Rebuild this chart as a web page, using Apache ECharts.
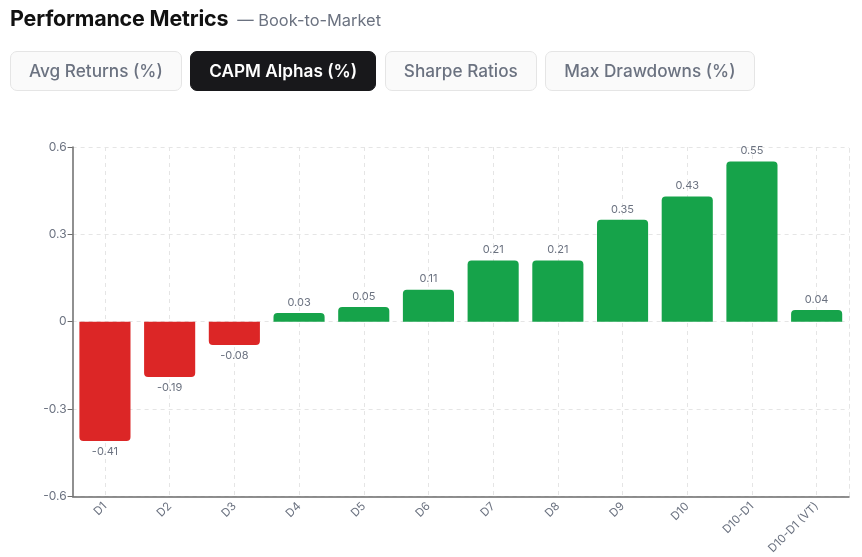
<!DOCTYPE html>
<html>
<head>
<meta charset="utf-8">
<script src="https://cdn.jsdelivr.net/npm/echarts@6/dist/echarts.min.js"></script>
<style>
  html, body { margin: 0; padding: 0; background: #fff; font-family: Inter, "Noto Sans", sans-serif; }
  #wrap { position: relative; width: 862px; height: 557px; overflow: hidden; }
  #head { position: absolute; left: 10px; top: 5px; white-space: nowrap; }
  #head .t { font-size: 21.5px; font-weight: 700; color: #111; letter-spacing: -0.2px; }
  #head .s { font-size: 16.4px; color: #6b7280; margin-left: 9px; }
  #tabs { position: absolute; left: 10px; top: 51px; display: flex; gap: 8.5px; }
  .tab { box-sizing: border-box; height: 40px; line-height: 38px; padding: 0 18px; border: 1px solid #e5e5e5;
         border-radius: 7px; background: #fafafa; color: #6b7280; font-size: 17.2px; font-weight: 500; white-space: nowrap; }
  .tab.on { background: #18181b; border-color: #18181b; color: #fff; font-weight: 600; }
  #chart { position: absolute; left: 0; top: 0; width: 862px; height: 557px; }
</style>
</head>
<body>
<div id="wrap">
  <div id="chart"></div>
  <div id="head"><span class="t">Performance Metrics</span><span class="s">— Book-to-Market</span></div>
  <div id="tabs">
    <div class="tab">Avg Returns (%)</div>
    <div class="tab on">CAPM Alphas (%)</div>
    <div class="tab">Sharpe Ratios</div>
    <div class="tab">Max Drawdowns (%)</div>
  </div>
</div>
<script>
var categories = ['D1', 'D2', 'D3', 'D4', 'D5', 'D6', 'D7', 'D8', 'D9', 'D10', 'D10-D1', 'D10-D1 (VT)'];
var alphas = [-0.41, -0.19, -0.08, 0.03, 0.05, 0.11, 0.21, 0.21, 0.35, 0.43, 0.55, 0.04];
var yTicks = [-0.6, -0.3, 0, 0.3, 0.6];

var posColor = '#16a34a';
var negColor = '#dc2626';
var textColor = '#6b7280';
var gridColor = '#e5e5e5';

var points = [];
for (var i = 0; i < alphas.length; i++) {
  var v = alphas[i];
  points.push({
    value: v,
    itemStyle: {
      color: v >= 0 ? posColor : negColor,
      borderRadius: v >= 0 ? [4, 4, 0, 0] : [0, 0, 4, 4]
    },
    label: { position: v >= 0 ? 'top' : 'bottom' }
  });
}

var chart = echarts.init(document.getElementById('chart'));
chart.setOption({
  animation: false,
  textStyle: { fontFamily: 'Inter, "Noto Sans", sans-serif' },
  grid: { left: 72.6, right: 13, top: 147, bottom: 60, containLabel: false },
  xAxis: {
    type: 'category',
    data: categories,
    axisLine: { onZero: false, lineStyle: { color: '#6b6b6b', width: 1.5 } },
    axisTick: { alignWithLabel: true, length: 5, lineStyle: { color: '#6b6b6b' } },
    axisLabel: { rotate: 45, color: textColor, fontSize: 11.5, margin: 8, interval: 0 },
    splitLine: { show: true, alignWithLabel: true, lineStyle: { color: gridColor, type: [4, 4] } }
  },
  yAxis: [{
    type: 'value',
    min: yTicks[0],
    max: yTicks[yTicks.length - 1],
    interval: 0.3,
    axisLine: { show: true, lineStyle: { color: '#6b6b6b', width: 1.5 } },
    axisTick: { show: true, length: 5, lineStyle: { color: '#6b6b6b' } },
    axisLabel: { color: textColor, fontSize: 12, margin: 6,
      formatter: function (v) { return String(Math.round(v * 10) / 10); } },
    splitLine: { show: true, lineStyle: { color: gridColor, type: [4, 4] } }
  }, {
    type: 'value',
    position: 'right',
    min: yTicks[0],
    max: yTicks[yTicks.length - 1],
    axisLine: { show: true, lineStyle: { color: gridColor, type: [4, 4] } },
    axisTick: { show: false },
    axisLabel: { show: false },
    splitLine: { show: false }
  }],
  series: [{
    type: 'bar',
    data: points,
    barCategoryGap: '21%',
    label: {
      show: true,
      color: textColor,
      fontSize: 11,
      distance: 5,
      formatter: function (p) { return p.value.toFixed(2); }
    }
  }]
});
</script>
</body>
</html>
